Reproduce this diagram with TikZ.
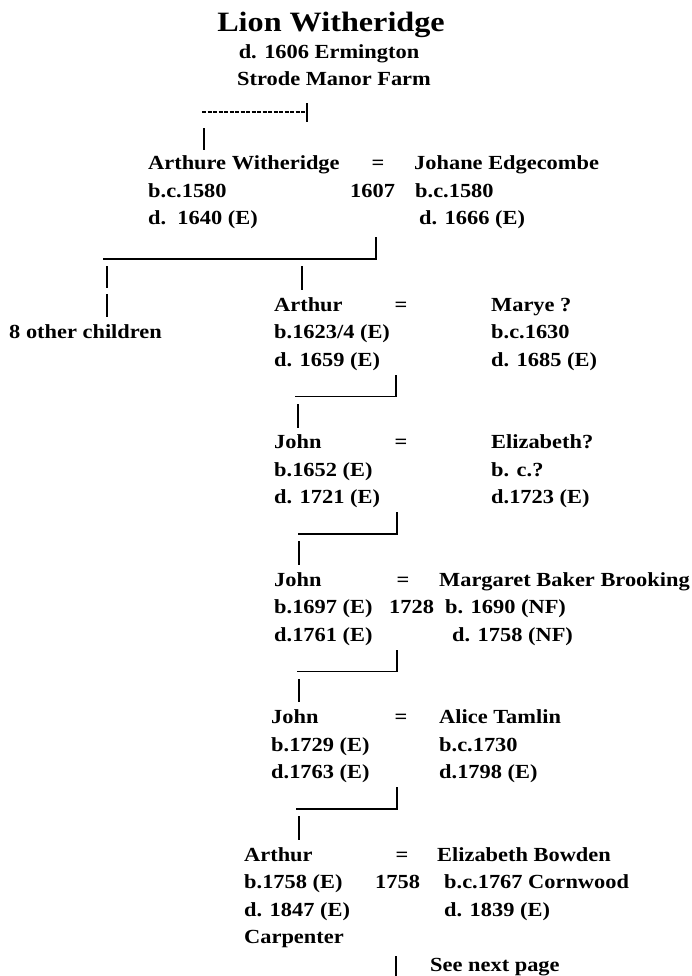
\documentclass[tikz,border=0pt]{standalone}
\usepackage{fontspec}
\setmainfont{Liberation Serif}
\newfontfamily\bodyfont{Liberation Serif}[FakeStretch=1.12]
\newfontfamily\titlefont{Liberation Serif}[FakeStretch=1.15]
\begin{document}
\begin{tikzpicture}[x=1pt,y=-1pt,
  txt/.style={inner sep=0pt, anchor=base west, font=\bodyfont\fontsize{20}{27}\selectfont\bfseries},
  ctr/.style={inner sep=0pt, anchor=base, font=\bodyfont\fontsize{20}{27}\selectfont\bfseries},
  ttl/.style={inner sep=0pt, anchor=base, font=\titlefont\fontsize{28}{32}\selectfont\bfseries},
  ln/.style={line width=1.6pt, line cap=rect},
  dln/.style={line width=1.1pt, dash pattern=on 4pt off 1.5pt}]
\useasboundingbox (0,0) rectangle (692,976);
% head
\node[ttl] (lion) at (331,32) {Lion Witheridge};
\node[ctr] (lionD) at (329,59) {d. 1606 Ermington};
\node[ctr] (lionP) at (334,86) {Strode Manor Farm};
\coordinate (t1) at (202,112); \coordinate (t2) at (307,112);
\coordinate (t3) at (307,104); \coordinate (t4) at (307,121);
\coordinate (t5) at (204,129); \coordinate (t6) at (204,149);
\draw[dln] (t1) -- (t2);
\draw[ln] (t3) -- (t4);
\draw[ln] (t5) -- (t6);
% generation 1
\node[txt] (g1a) at (148,170) {Arthure Witheridge};
\node[ctr] (g1eq) at (378,170) {=};
\node[txt] (g1w) at (414,170) {Johane Edgecombe};
\node[txt] (g1ab) at (148,197.5) {b.c.1580};
\node[txt] (g1m) at (350,197.5) {1607};
\node[txt] (g1wb) at (415,197.5) {b.c.1580};
\node[txt] (g1ad) at (148,225) {d.\ \ 1640 (E)};
\node[txt] (g1wd) at (419,225) {d. 1666 (E)};
\coordinate (c1a) at (376,238); \coordinate (c1b) at (376,259); \coordinate (c1c) at (104,259);
\draw[ln] (c1a) -- (c1b) -- (c1c);
\coordinate (o1) at (107,267); \coordinate (o2) at (107,287);
\coordinate (o3) at (107,295); \coordinate (o4) at (107,316);
\draw[ln] (o1) -- (o2); \draw[ln] (o3) -- (o4);
\coordinate (c1d) at (302,267); \coordinate (c1e) at (302,289);
\draw[ln] (c1d) -- (c1e);
% generation 2
\node[txt] (g2a) at (274,311) {Arthur};
\node[ctr] (g2eq) at (401,311) {=};
\node[txt] (g2w) at (491,311) {Marye ?};
\node[txt] (oth) at (9,338.5) {8 other children};
\node[txt] (g2ab) at (274,338.5) {b.1623/4 (E)};
\node[txt] (g2wb) at (491,338.5) {b.c.1630};
\node[txt] (g2ad) at (274,366) {d. 1659 (E)};
\node[txt] (g2wd) at (491,366) {d. 1685 (E)};
\coordinate (c2a) at (396,375.5); \coordinate (c2b) at (396,396.5); \coordinate (c2c) at (296,396.5);
\draw[ln] (c2a) -- (c2b) -- (c2c);
\coordinate (c2d) at (298,404.5); \coordinate (c2e) at (298,427);
\draw[ln] (c2d) -- (c2e);
% generation 3
\node[txt] (g3a) at (274,448.5) {John};
\node[ctr] (g3eq) at (401,448.5) {=};
\node[txt] (g3w) at (491,448.5) {Elizabeth?};
\node[txt] (g3ab) at (274,476) {b.1652 (E)};
\node[txt] (g3wb) at (491,476) {b. c.?};
\node[txt] (g3ad) at (274,503.5) {d. 1721 (E)};
\node[txt] (g3wd) at (491,503.5) {d.1723 (E)};
\coordinate (c3a) at (397,513); \coordinate (c3b) at (397,534); \coordinate (c3c) at (299,534);
\draw[ln] (c3a) -- (c3b) -- (c3c);
\coordinate (c3d) at (299,542); \coordinate (c3e) at (299,564);
\draw[ln] (c3d) -- (c3e);
% generation 4
\node[txt] (g4a) at (274,586) {John};
\node[ctr] (g4eq) at (403,586) {=};
\node[txt] (g4w) at (439,586) {Margaret Baker Brooking};
\node[txt] (g4ab) at (274,613.5) {b.1697 (E)};
\node[txt] (g4m) at (389,613.5) {1728};
\node[txt] (g4wb) at (445,613.5) {b. 1690 (NF)};
\node[txt] (g4ad) at (274,641) {d.1761 (E)};
\node[txt] (g4wd) at (452,641) {d. 1758 (NF)};
\coordinate (c4a) at (397,650.5); \coordinate (c4b) at (397,671.5); \coordinate (c4c) at (298,671.5);
\draw[ln] (c4a) -- (c4b) -- (c4c);
\coordinate (c4d) at (299,679.5); \coordinate (c4e) at (299,701);
\draw[ln] (c4d) -- (c4e);
% generation 5
\node[txt] (g5a) at (271,723.5) {John};
\node[ctr] (g5eq) at (401,723.5) {=};
\node[txt] (g5w) at (439,723.5) {Alice Tamlin};
\node[txt] (g5ab) at (271,751) {b.1729 (E)};
\node[txt] (g5wb) at (439,751) {b.c.1730};
\node[txt] (g5ad) at (271,778.5) {d.1763 (E)};
\node[txt] (g5wd) at (439,778.5) {d.1798 (E)};
\coordinate (c5a) at (397,788); \coordinate (c5b) at (397,809); \coordinate (c5c) at (297,809);
\draw[ln] (c5a) -- (c5b) -- (c5c);
\coordinate (c5d) at (299,817); \coordinate (c5e) at (299,839);
\draw[ln] (c5d) -- (c5e);
% generation 6
\node[txt] (g6a) at (244,861) {Arthur};
\node[ctr] (g6eq) at (402,861) {=};
\node[txt] (g6w) at (437,861) {Elizabeth Bowden};
\node[txt] (g6ab) at (244,888.5) {b.1758 (E)};
\node[txt] (g6m) at (375,888.5) {1758};
\node[txt] (g6wb) at (444,888.5) {b.c.1767 Cornwood};
\node[txt] (g6ad) at (244,916) {d. 1847 (E)};
\node[txt] (g6wd) at (444,916) {d. 1839 (E)};
\node[txt] (g6o) at (244,943.5) {Carpenter};
\coordinate (c6a) at (396,957); \coordinate (c6b) at (396,976);
\draw[ln] (c6a) -- (c6b);
\node[txt] (next) at (430,971) {See next page};
\end{tikzpicture}
\end{document}
